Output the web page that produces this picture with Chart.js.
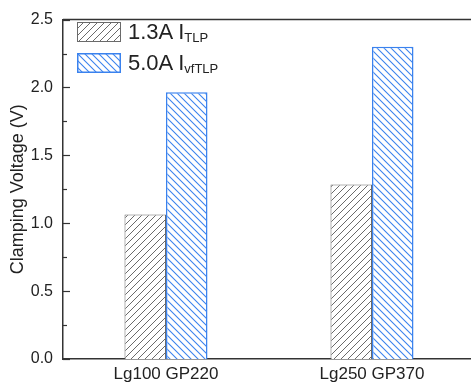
<!DOCTYPE html>
<html>
<head>
<meta charset="utf-8">
<script src="https://cdn.jsdelivr.net/npm/chart.js@4"></script>
<style>
  html, body { margin: 0; padding: 0; background: #fff; overflow: hidden; width: 471px; height: 387px; }
  #wrap { position: absolute; left: 0; top: 0; width: 480px; height: 387px; }
  .leg { position: absolute; font-family: "Liberation Sans", Arial, sans-serif; font-size: 22px; line-height: 22px; color: #222; white-space: nowrap; }
  .leg sub { font-size: 13px; vertical-align: -3px; line-height: 0; }
  .sw { position: absolute; box-sizing: border-box; }
</style>
</head>
<body>
<div id="wrap"><canvas id="c"></canvas></div>
<canvas class="sw" id="sw1" width="44" height="20" style="left:77px;top:22px;"></canvas>
<canvas class="sw" id="sw2" width="44" height="20" style="left:77px;top:53px;"></canvas>
<div class="leg" style="left:128px;top:21px;">1.3A I<sub>TLP</sub></div>
<div class="leg" style="left:128px;top:52px;">5.0A I<sub>vfTLP</sub></div>
<script>
const categories = ['Lg100 GP220', 'Lg250 GP370'];
const seriesNames = ['1.3A ITLP', '5.0A IvfTLP'];
const tlp13 = [1.065, 1.285];
const vftlp50 = [1.965, 2.30];
const yTicks = [0, 0.5, 1.0, 1.5, 2.0, 2.5];
const yTitle = 'Clamping Voltage (V)';

const GRAY = '#6a6a6a';
const BLUE = '#3a82ee';

function makePattern(color, dir, lw) {
  const s = 7;
  const p = document.createElement('canvas');
  p.width = s; p.height = s;
  const g = p.getContext('2d');
  g.fillStyle = '#fff'; g.fillRect(0, 0, s, s);
  g.strokeStyle = color; g.lineWidth = lw;
  for (const k of [-s, 0, s]) {
    g.beginPath();
    if (dir === '/') { g.moveTo(k - 1, s + 1); g.lineTo(k + s + 1, -1); }
    else { g.moveTo(k - 1, -1); g.lineTo(k + s + 1, s + 1); }
    g.stroke();
  }
  return g.canvas;
}
const ctxMain = document.getElementById('c').getContext('2d');
const patGray = ctxMain.createPattern(makePattern(GRAY, '/', 1), 'repeat');
const patBlue = ctxMain.createPattern(makePattern(BLUE, '\\', 1.1), 'repeat');

function swatch(id, color, dir, lw, bw) {
  const cv = document.getElementById(id);
  const g = cv.getContext('2d');
  g.fillStyle = g.createPattern(makePattern(color, dir, lw), 'repeat');
  g.fillRect(0, 0, cv.width, cv.height);
  g.strokeStyle = color; g.lineWidth = bw;
  g.strokeRect(bw / 2, bw / 2, cv.width - bw, cv.height - bw);
}
swatch('sw1', GRAY, '/', 1, 1);
swatch('sw2', BLUE, '\\', 1.1, 1.5);

const frame = {
  id: 'frame',
  afterDraw(chart) {
    const { ctx, chartArea: a, scales: { y } } = chart;
    ctx.save();
    ctx.strokeStyle = '#333';
    ctx.lineWidth = 1.5;
    ctx.beginPath();
    ctx.moveTo(a.left, a.top); ctx.lineTo(a.right, a.top);
    ctx.stroke();
    ctx.lineWidth = 1.2;
    for (let v = 0; v <= 2.5001; v += 0.25) {
      const major = Math.abs(v / 0.5 - Math.round(v / 0.5)) < 1e-6;
      const py = Math.round(y.getPixelForValue(v)) + 0.5;
      ctx.beginPath();
      ctx.moveTo(a.left, py); ctx.lineTo(a.left + (major ? 7 : 4), py);
      ctx.stroke();
    }
    ctx.translate(18.5, (a.top + a.bottom) / 2);
    ctx.rotate(-Math.PI / 2);
    ctx.fillStyle = '#222';
    ctx.font = '18px "Liberation Sans", Arial, sans-serif';
    ctx.textAlign = 'center';
    ctx.textBaseline = 'middle';
    ctx.fillText(yTitle, 0, 0);
    ctx.restore();
  }
};

new Chart(ctxMain, {
  type: 'bar',
  data: {
    labels: categories,
    datasets: [
      { label: seriesNames[0], data: tlp13, backgroundColor: patGray, borderColor: GRAY, borderWidth: 1, borderSkipped: 'bottom' },
      { label: seriesNames[1], data: vftlp50, backgroundColor: patBlue, borderColor: BLUE, borderWidth: 1.5, borderSkipped: 'bottom' }
    ]
  },
  options: {
    responsive: true,
    maintainAspectRatio: false,
    animation: false,
    events: [],
    layout: { padding: { top: 14, right: 5, left: 0, bottom: 0 } },
    plugins: { legend: { display: false }, tooltip: { enabled: false } },
    datasets: { bar: { categoryPercentage: 0.403, barPercentage: 1.0 } },
    scales: {
      x: {
        grid: { display: false, drawTicks: false },
        border: { display: true, color: '#333', width: 1.5 },
        ticks: { color: '#222', font: { family: 'Liberation Sans', size: 17 }, padding: 5 },
        afterFit(s) { s.height = 28; }
      },
      y: {
        min: 0, max: 2.5,
        afterBuildTicks(s) { s.ticks = yTicks.map(v => ({ value: v })); },
        grid: { display: false, drawTicks: false },
        border: { display: true, color: '#333', width: 1.5 },
        ticks: { color: '#222', font: { family: 'Liberation Sans', size: 16 }, padding: 10,
                 callback: v => Number(v).toFixed(1) },
        title: { display: false },
        afterFit(s) { s.width = 63; }
      }
    }
  },
  plugins: [frame]
});
</script>
</body>
</html>
